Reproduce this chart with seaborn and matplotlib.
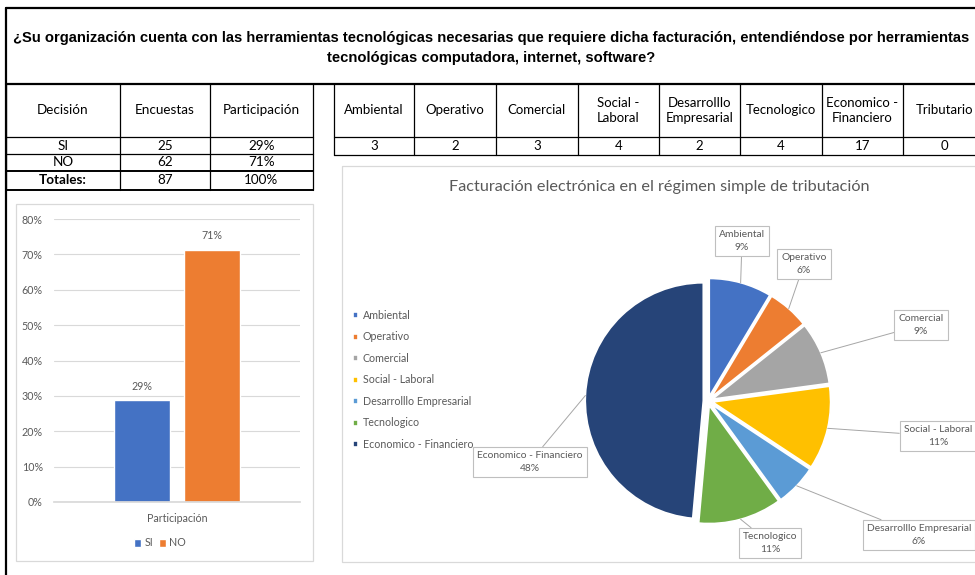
import math
import matplotlib
matplotlib.use("Agg")
import matplotlib.pyplot as plt
import seaborn as sns
import pandas as pd
from matplotlib import font_manager
from matplotlib.patches import Rectangle
from matplotlib.ticker import MultipleLocator, PercentFormatter

# --- data read from the sheet ---
decision = ["SI", "NO"]
encuestas = [25, 62]
participacion = [0.287, 0.713]

areas = ["Ambiental", "Operativo", "Comercial", "Social - Laboral",
         "Desarrolllo Empresarial", "Tecnologico", "Economico - Financiero", "Tributario"]
area_headers = ["Ambiental", "Operativo", "Comercial", "Social -\nLaboral",
                "Desarrolllo\nEmpresarial", "Tecnologico", "Economico -\nFinanciero", "Tributario"]
area_counts = [3, 2, 3, 4, 2, 4, 17, 0]
area_pct_shown = [9, 6, 9, 11, 6, 11, 48]

title_lines = ["¿Su organización cuenta con las herramientas tecnológicas necesarias que requiere dicha facturación, entendiéndose por herramientas",
               "tecnológicas computadora, internet, software?"]
pie_title = "Facturación electrónica en el régimen simple de tributación"

bar_colors = ["#4472C4", "#ED7D31"]
pie_colors = ["#4472C4", "#ED7D31", "#A5A5A5", "#FFC000", "#5B9BD5", "#70AD47", "#264478"]
GRAY = "#595959"


def has_font(name):
    try:
        font_manager.findfont(name, fallback_to_default=False)
        return True
    except ValueError:
        return False


sns.set_theme(style="white")
plt.rcParams["font.family"] = ["Lato", "DejaVu Sans"]
title_font = "Liberation Sans Narrow" if has_font("Liberation Sans Narrow") else "Liberation Sans"
title_size = 12.5 if title_font == "Liberation Sans Narrow" else 10.6

W, H = 975, 575
fig = plt.figure(figsize=(W / 100, H / 100), dpi=100)
fig.patch.set_facecolor("white")

# background axes in pixel coords for the sheet grid
bg = fig.add_axes([0, 0, 1, 1])
bg.set_xlim(0, W)
bg.set_ylim(H, 0)
bg.axis("off")

# frame + header
bg.plot([6, W], [8, 8], color="black", lw=1.6)
bg.plot([6, 6], [8, H], color="black", lw=1.6)
bg.plot([6, W], [84, 84], color="black", lw=1.6)
for i, line in enumerate(title_lines):
    bg.text(491, 38 + i * 20, line, ha="center", va="center", fontsize=title_size,
            fontweight="bold", family=title_font, color="black")

# table 1
t1x = [6, 120, 210, 313]
t1y = [84, 137, 154, 171, 190]
for x in t1x:
    bg.plot([x, x], [84, 190], color="black", lw=0.9)
for j, y in enumerate(t1y[1:]):
    bg.plot([6, 313], [y, y], color="black", lw=0.9 if j < 2 else 1.4)
head1 = ["Decisión", "Encuestas", "Participación"]
rows1 = [[d, str(e), f"{p:.0%}"] for d, e, p in zip(decision, encuestas, participacion)]
rows1.append(["Totales:", str(sum(encuestas)), f"{sum(participacion):.0%}"])
for c in range(3):
    xc = (t1x[c] + t1x[c + 1]) / 2
    bg.text(xc, (t1y[0] + t1y[1]) / 2, head1[c], ha="center", va="center", fontsize=9.7, color="black")
    for r, row in enumerate(rows1):
        bold = (r == 2 and c == 0)
        bg.text(xc, (t1y[r + 1] + t1y[r + 2]) / 2, row[c], ha="center", va="center",
                fontsize=9.7, color="black", fontweight="bold" if bold else "normal")

# table 2
t2x = [334, 414, 496, 578, 659, 740, 822, 903, 985]
t2y = [84, 137, 155]
for x in t2x:
    bg.plot([x, x], [84, 155], color="black", lw=0.9)
for y in t2y[1:]:
    bg.plot([334, 985], [y, y], color="black", lw=0.9)
for c in range(8):
    xc = (t2x[c] + t2x[c + 1]) / 2
    bg.text(xc, (t2y[0] + t2y[1]) / 2, area_headers[c], ha="center", va="center",
            fontsize=9.5, color="black", linespacing=1.35)
    bg.text(xc, (t2y[1] + t2y[2]) / 2, str(area_counts[c]), ha="center", va="center",
            fontsize=9.5, color="black")

# chart panels
bg.add_patch(Rectangle((16, 204), 297, 357, fill=False, ec="#D9D9D9", lw=0.9))
bg.add_patch(Rectangle((342, 166), 700, 396, fill=False, ec="#D9D9D9", lw=0.9))

# --- bar chart ---
axb = fig.add_axes([54 / W, 1 - 502 / H, 246 / W, 283 / H])
df = pd.DataFrame({"cat": ["Participación"] * len(decision),
                   "Decision": decision, "Participacion": participacion})
sns.barplot(data=df, x="cat", y="Participacion", hue="Decision", palette=bar_colors,
            width=0.569, gap=0.2, ax=axb, saturation=1)
axb.set_xlim(-0.5, 0.5)
axb.set_ylim(0, 0.8)
axb.yaxis.set_major_locator(MultipleLocator(0.1))
axb.yaxis.set_major_formatter(PercentFormatter(1, decimals=0))
axb.yaxis.grid(True, color="#D9D9D9", lw=0.8)
axb.set_axisbelow(True)
for s in ["left", "top", "right"]:
    axb.spines[s].set_visible(False)
axb.spines["bottom"].set_color("#D9D9D9")
axb.tick_params(axis="y", length=0, labelcolor=GRAY, labelsize=7.7, pad=8)
axb.tick_params(axis="x", length=0, labelcolor=GRAY, labelsize=7.7, pad=8)
axb.set_xlabel("")
axb.set_ylabel("")
for cont in axb.containers:
    axb.bar_label(cont, labels=[f"{b.get_height():.0%}" for b in cont], padding=6,
                  color=GRAY, fontsize=7.7)
handles, labels = axb.get_legend_handles_labels()
axb.legend(handles, labels, loc="center", bbox_to_anchor=(160 / W, 1 - 543 / H),
           bbox_transform=fig.transFigure, ncol=2, frameon=False, handlelength=0.7,
           handleheight=0.7, handletextpad=0.3, columnspacing=0.5, fontsize=7.7,
           labelcolor=GRAY)

# --- pie chart ---
R, cx, cy, k = 118, 708, 401, 1.1
axp = fig.add_axes([(cx - R * k) / W, 1 - (cy + R * k) / H, 2 * R * k / W, 2 * R * k / H])
pie_labels = [a for a, n in zip(areas, area_counts) if n > 0]
pie_vals = [n for n in area_counts if n > 0]
wedges, _ = axp.pie(pie_vals, colors=pie_colors, startangle=90, counterclock=False,
                    explode=[0.04] * len(pie_vals), radius=1,
                    wedgeprops=dict(edgecolor="white", linewidth=1.2))
axp.set_xlim(-k, k)
axp.set_ylim(-k, k)

label_px = [(742, 241), (804, 264), (921, 325), (938, 436), (919, 535), (770, 543), (530, 462)]
for w, name, pct, (px, py) in zip(wedges, pie_labels, area_pct_shown, label_px):
    th = math.radians((w.theta1 + w.theta2) / 2)
    start = (1.04 * math.cos(th), 1.04 * math.sin(th))
    axp.annotate(f"{name}\n{pct}%", xy=start, xytext=((px - cx) / R, -(py - cy) / R),
                 ha="center", va="center", fontsize=7.4, color=GRAY, linespacing=1.5,
                 bbox=dict(boxstyle="square,pad=0.4", fc="white", ec="#BFBFBF", lw=0.8),
                 arrowprops=dict(arrowstyle="-", color="#A6A6A6", lw=0.7,
                                 shrinkA=0, shrinkB=0),
                 annotation_clip=False)

fig.legend(wedges, pie_labels, loc="upper left", bbox_to_anchor=(353 / W, 1 - 310 / H),
           frameon=False, fontsize=7.7, labelcolor=GRAY, handlelength=0.5,
           handleheight=0.5, handletextpad=0.4, labelspacing=0.98,
           borderaxespad=0, borderpad=0)

bg.text(659, 187, pie_title, ha="center", va="center", fontsize=11.7, color=GRAY)

fig.savefig("out.png", dpi=100)
